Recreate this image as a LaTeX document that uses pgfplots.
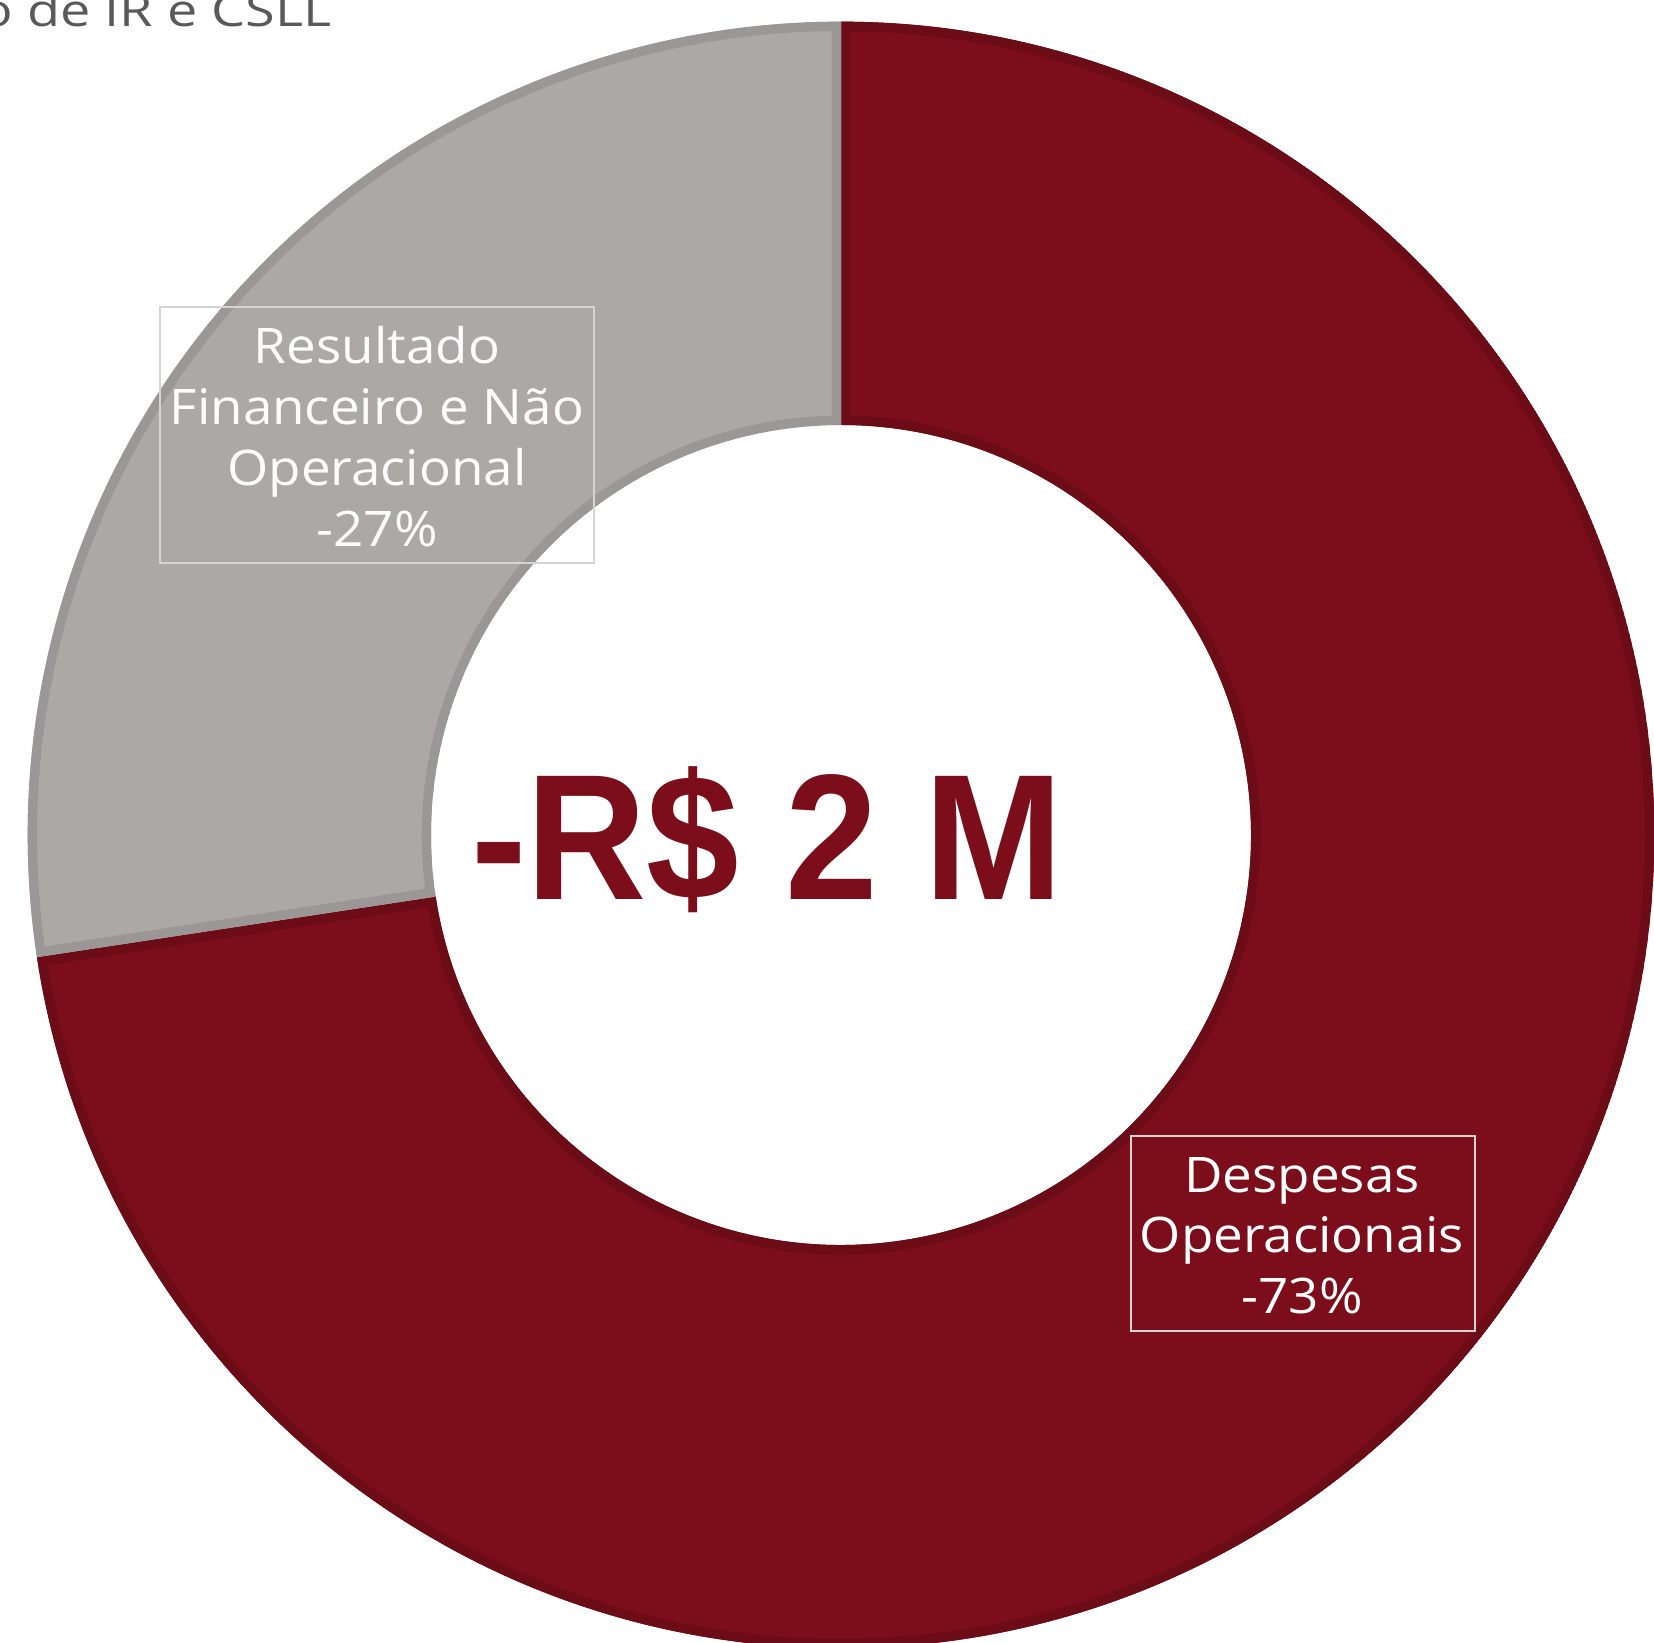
\documentclass[border=0pt]{standalone}
\usepackage{pgfplots}
\pgfplotsset{compat=1.18}
\usepackage{pgfplotstable}
\usepackage{fontspec}
\setmainfont[FakeStretch=1.08]{Open Sans}
\newfontfamily\titlefont[FakeStretch=1.2]{Open Sans}
\newfontfamily\bigfont[FakeStretch=0.93]{Liberation Sans}

\definecolor{despred}{HTML}{7B0E1A}
\definecolor{despredline}{HTML}{6B0C16}
\definecolor{resgray}{HTML}{ACA8A6}
\definecolor{resgrayline}{HTML}{9B9796}
\definecolor{titlegray}{HTML}{595959}
\definecolor{boxline}{HTML}{D4D4D4}

% share of the total result (%), clockwise from 12 o'clock
\pgfplotstableread{
share
72.6
27.4
}\slices

% donut geometry (axis units are pixels, 1px = 0.3pt)
\newcommand\cx{841}
\newcommand\cy{808}
\newcommand\rout{244pt}
\newcommand\rin{123pt}
\newcommand\slicepath[2]{(axis cs:\cx,\cy) ++(#1:\rout)
  arc[start angle=#1,end angle=#2,radius=\rout]
  -- ++({#2+180}:121pt)
  arc[start angle=#2,end angle=#1,radius=\rin] -- cycle}
\newcommand\donutslice[4]{%
  \begin{scope}
    \clip \slicepath{#1}{#2};
    \fill[#3] \slicepath{#1}{#2};
    \draw[#4,line width=5.6pt] \slicepath{#1}{#2};
  \end{scope}}

\pgfplotstablegetelem{0}{share}\of\slices \let\shareA\pgfplotsretval
\pgfplotstablegetelem{1}{share}\of\slices \let\shareB\pgfplotsretval
\pgfmathsetmacro\angA{90-3.6*\shareA}
\pgfmathsetmacro\angB{\angA-3.6*\shareB}

\begin{document}
\begin{tikzpicture}
\begin{axis}[
    scale only axis,
    width=496.2pt, height=492.9pt,
    xmin=0, xmax=1654, ymin=0, ymax=1643,
    hide axis,
    clip=false,
  ]
  \path (axis cs:0,0) rectangle (axis cs:1654,1643);
  \begin{scope}
    \clip (axis cs:0,0) rectangle (axis cs:1654,1643);
    \donutslice{90}{\angA}{despred}{despredline}
    \donutslice{\angA}{\angB}{resgray}{resgrayline}
  \end{scope}

  % data labels
  \draw[boxline, line width=0.6pt] (axis cs:160,1336) rectangle (axis cs:594,1080);
  \draw[boxline, line width=0.6pt] (axis cs:1131,507) rectangle (axis cs:1475,312);
  \begin{scope}[every node/.style={text=white, anchor=base, inner sep=0pt,
      font=\fontsize{14.7}{17.8}\selectfont}]
    \node at (axis cs:377,1279) {Resultado};
    \node at (axis cs:377,1218) {Financeiro e Não};
    \node at (axis cs:377,1157) {Operacional};
    \node at (axis cs:377,1096) {-27\%};
    \node at (axis cs:1302,450) {Despesas};
    \node at (axis cs:1302,390) {Operacionais};
    \node at (axis cs:1302,329) {-73\%};
  \end{scope}

  % total in the hole
  \node[anchor=base, inner sep=0pt, text=despred,
    font=\bigfont\bfseries\fontsize{53.7}{54}\selectfont] at (axis cs:767,743) {-R\$ 2 M};

  % title, cut off at the left edge as in the source
  \node[overlay, anchor=base east, inner sep=0pt, text=titlegray,
    font=\titlefont\fontsize{13.5}{15}\selectfont] at (axis cs:332,1616) {Resultado antes da Provisão de IR e CSLL};
\end{axis}
\end{tikzpicture}
\end{document}
